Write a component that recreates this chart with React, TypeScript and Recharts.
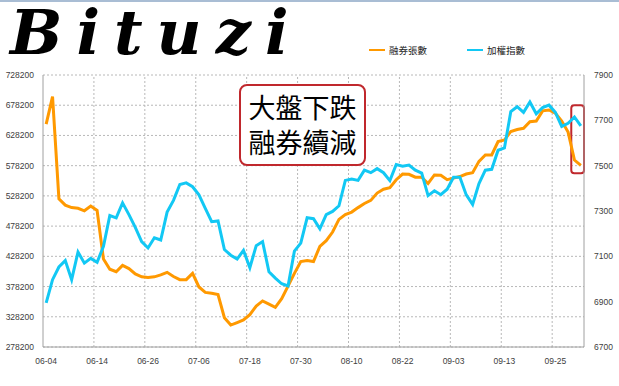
import React from "react";
import {
  LineChart,
  Line,
  XAxis,
  YAxis,
  CartesianGrid,
  ReferenceLine,
  ReferenceArea,
  Legend,
} from "recharts";

// trading days, 2012-06-04 .. 2012-10-01
const dates = [
  "06-04", "06-05", "06-06", "06-07", "06-08", "06-11", "06-12", "06-13",
  "06-14", "06-15", "06-18", "06-19", "06-20", "06-21", "06-22", "06-25",
  "06-26", "06-27", "06-28", "06-29", "07-02", "07-03", "07-04", "07-05",
  "07-06", "07-09", "07-10", "07-11", "07-12", "07-13", "07-16", "07-17",
  "07-18", "07-19", "07-20", "07-23", "07-24", "07-25", "07-26", "07-27",
  "07-30", "07-31", "08-01", "08-03", "08-06", "08-07", "08-08", "08-09",
  "08-10", "08-13", "08-14", "08-15", "08-16", "08-17", "08-20", "08-21",
  "08-22", "08-23", "08-24", "08-27", "08-28", "08-29", "08-30", "08-31",
  "09-03", "09-04", "09-05", "09-06", "09-07", "09-10", "09-11", "09-12",
  "09-13", "09-14", "09-17", "09-18", "09-19", "09-20", "09-21", "09-24",
  "09-25", "09-26", "09-27", "09-28", "10-01",
];

// 融券張數 (left axis)
const shortBalance = [
  646800, 692500, 523500, 512900, 508800, 507700, 503500, 511300,
  504100, 423700, 406900, 402700, 413200, 408000, 399000, 394300,
  393200, 394300, 397400, 401700, 394800, 389600, 389600, 400100,
  377500, 368600, 367000, 364900, 326600, 314500, 318700, 322900,
  331800, 346000, 354400, 349100, 343900, 358100, 379000, 400100,
  419500, 421100, 419500, 444700, 454200, 468400, 489300, 497200,
  501400, 508800, 515600, 520800, 532900, 539200, 541900, 555000,
  564400, 563900, 559200, 559200, 548700, 562800, 562300, 555000,
  557600, 560200, 564400, 566500, 585400, 595900, 595900, 618000,
  620600, 634800, 637900, 640000, 651000, 652100, 668900, 670400,
  665200, 652100, 633700, 587500, 578600,
];

// 加權指數 (right axis)
const taiex = [
  6895, 6997, 7053, 7081, 6997, 7119, 7070, 7091,
  7074, 7144, 7280, 7270, 7336, 7284, 7228, 7165,
  7137, 7182, 7172, 7295, 7347, 7417, 7424, 7407,
  7371, 7312, 7253, 7256, 7130, 7105, 7088, 7126,
  7050, 7147, 7165, 7032, 7004, 6979, 6969, 7123,
  7158, 7270, 7266, 7221, 7284, 7298, 7323, 7435,
  7441, 7435, 7480, 7469, 7487, 7469, 7434, 7505,
  7498, 7503, 7480, 7467, 7368, 7389, 7372, 7396,
  7449, 7449, 7371, 7329, 7421, 7480, 7484, 7568,
  7578, 7739, 7760, 7735, 7781, 7729, 7756, 7767,
  7735, 7673, 7687, 7715, 7676,
];

const leftTicks = [278200, 328200, 378200, 428200, 478200, 528200, 578200, 628200, 678200, 728200];
const rightTicks = [6700, 6900, 7100, 7300, 7500, 7700, 7900];
const labelEvery = 8;

const ORANGE = "#FF9900";
const BLUE = "#12C8F4";
const GRID = "#b8b8b8";
const AXIS = "#a0a0a0";

const data = dates.map((d, i) => ({ date: d, short: shortBalance[i], index: taiex[i] }));

const legendItems = [
  { name: "融券張數", color: ORANGE },
  { name: "加權指數", color: BLUE },
];

function ChartLegend() {
  return (
    <div style={{ display: "flex", gap: 40, fontFamily: "'Noto Sans CJK TC', sans-serif", fontSize: 9.5, color: "#222" }}>
      {legendItems.map((it) => (
        <div key={it.name} style={{ display: "flex", alignItems: "center" }}>
          <span style={{ width: 16, height: 2, background: it.color, marginRight: 4 }} />
          <span>{it.name}</span>
        </div>
      ))}
    </div>
  );
}

export default function App() {
  const tickStyle = { fontSize: 8.5, fill: "#404040", fontFamily: "'Liberation Sans', Arial, sans-serif" };
  return (
    <div style={{ position: "absolute", left: 0, top: 0, width: 619, height: 386, background: "#fff", overflow: "hidden" }}>
      <div style={{ position: "absolute", left: 0, top: 0, width: 619, height: 2, background: "#a9bdd4" }} />
      <LineChart width={619} height={386} data={data} margin={{ top: 75, right: 0, bottom: 0, left: 0 }}>
        <CartesianGrid yAxisId="left" vertical={false} stroke={GRID} strokeDasharray="2 2" />
        <XAxis
          dataKey="date"
          scale="band"
          interval={labelEvery - 1}
          height={25}
          tickLine={false}
          tickSize={0}
          tickMargin={11}
          stroke={AXIS}
          tick={tickStyle}
        />
        <YAxis
          yAxisId="left"
          width={43}
          domain={[278200, 728200]}
          ticks={leftTicks}
          interval={0}
          tickLine={false}
          tickSize={0}
          tickMargin={9}
          stroke={AXIS}
          tick={tickStyle}
        />
        <YAxis
          yAxisId="right"
          orientation="right"
          width={35}
          domain={[6700, 7900]}
          ticks={rightTicks}
          interval={0}
          tickLine={false}
          tickSize={0}
          tickMargin={10}
          stroke={AXIS}
          tick={tickStyle}
        />
        {dates
          .filter((_, i) => i > 0 && i % labelEvery === 0)
          .map((d) => (
            <ReferenceLine key={d} x={d} yAxisId="left" position="start" stroke={GRID} strokeDasharray="2 2" />
          ))}
        <Legend
          content={<ChartLegend />}
          wrapperStyle={{ position: "absolute", top: 43, left: 369, width: "auto" }}
        />
        <Line
          yAxisId="left"
          type="linear"
          dataKey="short"
          name="融券張數"
          stroke={ORANGE}
          strokeWidth={3}
          dot={false}
          isAnimationActive={false}
        />
        <Line
          yAxisId="right"
          type="linear"
          dataKey="index"
          name="加權指數"
          stroke={BLUE}
          strokeWidth={3}
          dot={false}
          isAnimationActive={false}
        />
        <ReferenceArea
          yAxisId="left"
          x1={dates[83]}
          x2={dates[84]}
          y1={565500}
          y2={678300}
          fill="none"
          stroke="#c0282d"
          strokeWidth={2}
          radius={3}
          ifOverflow="visible"
        />
      </LineChart>
      <div
        style={{
          position: "absolute",
          left: 10,
          top: 0,
          fontFamily: "'DejaVu Serif', serif",
          fontWeight: "bold",
          fontStyle: "italic",
          fontSize: 62,
          letterSpacing: 14,
          color: "#000",
          lineHeight: "66px",
          whiteSpace: "nowrap",
        }}
      >
        Bituzi
      </div>
      <div
        style={{
          position: "absolute",
          left: 239,
          top: 84,
          width: 123,
          height: 75,
          border: "2px solid #c0282d",
          borderRadius: 8,
          background: "#fff",
          fontFamily: "'Noto Sans CJK TC', sans-serif",
          fontSize: 27,
          lineHeight: "35px",
          textAlign: "center",
          paddingTop: 3,
          boxSizing: "content-box",
          color: "#000",
        }}
      >
        大盤下跌
        <br />
        融券續減
      </div>
    </div>
  );
}
